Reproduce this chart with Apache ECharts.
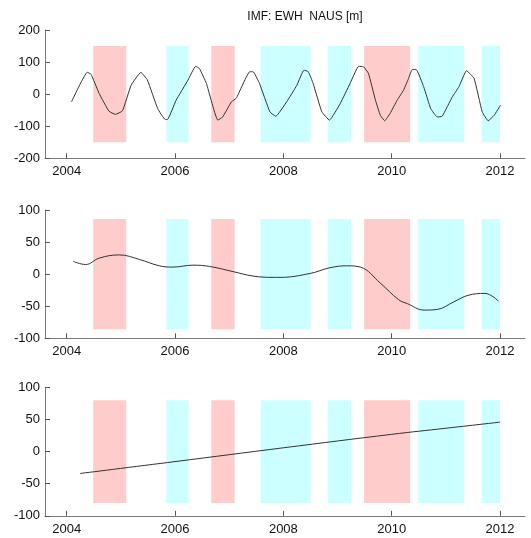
<!DOCTYPE html>
<html>
<head>
<meta charset="utf-8">
<script src="https://cdn.jsdelivr.net/npm/echarts@6/dist/echarts.min.js"></script>
<style>html,body{margin:0;padding:0;background:#fff}#c{width:531px;height:538px}</style>
</head>
<body>
<div id="c"></div>
<script>
// ---- data ----
const titleText = 'IMF: EWH  NAUS [m]';
const xTicks = [2004, 2006, 2008, 2010, 2012];

// IMF 1 (annual oscillation)
const t1 = [2004.09,2004.38,2004.45,2004.60,2004.78,2004.90,2005.03,2005.19,2005.37,2005.49,2005.68,2005.82,2005.86,2006.02,2006.24,2006.38,2006.45,2006.58,2006.79,2006.88,2007.04,2007.13,2007.38,2007.44,2007.56,2007.75,2007.86,2008.06,2008.25,2008.38,2008.46,2008.55,2008.71,2008.85,2009.05,2009.23,2009.39,2009.48,2009.57,2009.70,2009.79,2009.87,2009.97,2010.10,2010.22,2010.31,2010.38,2010.45,2010.59,2010.72,2010.84,2010.93,2011.12,2011.24,2011.38,2011.52,2011.67,2011.78,2011.89,2012.01];
const v1 = [-24,68,62,2,-53,-63,-52,28,68,44,-45,-79,-79,-19,44,87,80,33,-81,-71,-24,-13,70,70,33,-55,-69,-24,28,75,70,33,-55,-81,-29,33,87,85,65,-19,-66,-83,-60,-19,13,49,77,77,23,-45,-71,-69,-8,23,73,49,-55,-83,-66,-34];

// IMF 2 (interannual)
const t2 = [2004.12,2004.35,2004.60,2004.97,2005.34,2005.71,2005.96,2006.33,2006.64,2007.07,2007.44,2007.81,2007.94,2008.49,2008.86,2009.17,2009.42,2009.79,2010.13,2010.29,2010.60,2010.84,2011.15,2011.41,2011.72,2011.97];
const v2 = [20,15,25,30,23,13,11,14,12,4,-3,-5,-5,1,10,13,11,-14,-40,-46,-56,-55,-43,-33,-30,-42];

// Residual trend
const t3 = [2004.25,2006.00,2008.00,2010.00,2011.00,2012.00];
const v3 = [-34,-15.5,6,27,36.5,46];

// ENSO periods: [start, end]
const pinkBands = [[2004.49,2005.10],[2006.67,2007.10],[2009.49,2010.34]];
const cyanBands = [[2005.84,2006.25],[2007.58,2008.50],[2008.82,2009.25],[2010.49,2011.34],[2011.66,2012.00]];

// y-axis ranges / band heights per panel
const yMin = [-200,-100,-100], yMax = [200,100,100], yStep = [100,50,50];
const bandH = [150,86,80];

// ---- chart ----
const chart = echarts.init(document.getElementById('c'), null, {renderer:'canvas'});
const tops = [30, 210, 387.5];
const font = 'Liberation Sans, Arial, sans-serif';
const grids = tops.map(t => ({left:45, top:t, width:480, height:128.3}));
const xAxes = tops.map((t,i) => ({
  type:'value', gridIndex:i, min:2003.6, max:2012.46,
  axisLine:{show:true, onZero:false, lineStyle:{color:'#7a7a7a', width:1}},
  axisTick:{show:true, inside:true, length:5, customValues:xTicks, lineStyle:{color:'#555'}},
  axisLabel:{customValues:xTicks, color:'#111', fontSize:13, fontFamily:font, margin:7,
    formatter: v => String(Math.round(v))},
  splitLine:{show:false}
}));
const yAxes = tops.map((t,i) => ({
  type:'value', gridIndex:i, min:yMin[i], max:yMax[i], interval:yStep[i],
  axisLine:{show:true, onZero:false, lineStyle:{color:'#7a7a7a', width:1}},
  axisTick:{show:true, inside:true, length:5, lineStyle:{color:'#555'}},
  axisLabel:{color:'#111', fontSize:13, fontFamily:font, margin:5},
  splitLine:{show:false}
}));

function bandsFor(i){
  const h = bandH[i];
  const mk = (arr, col) => arr.map(b => [
    {xAxis:b[0], yAxis:-h, itemStyle:{color:col}},
    {xAxis:b[1], yAxis:h}
  ]);
  return mk(pinkBands,'#ffcccc').concat(mk(cyanBands,'#ccffff'));
}

const ts = [t1,t2,t3], vs = [v1,v2,v3];
const series = ts.map((t,i) => ({
  type:'line', xAxisIndex:i, yAxisIndex:i,
  data: t.map((x,k) => [x, vs[i][k]]),
  symbol:'none', smooth: i===0 ? 0.12 : 0.4,
  lineStyle:{color:'#333', width:1},
  z:3,
  markArea:{silent:true, z:1, data:bandsFor(i)}
}));

chart.setOption({
  animation:false,
  backgroundColor:'#fff',
  title:{text:titleText, left:300, top:6, textAlign:'center',
    textStyle:{fontSize:12, fontWeight:'normal', color:'#111', fontFamily:font}},
  grid:grids, xAxis:xAxes, yAxis:yAxes, series
});
</script>
</body>
</html>
